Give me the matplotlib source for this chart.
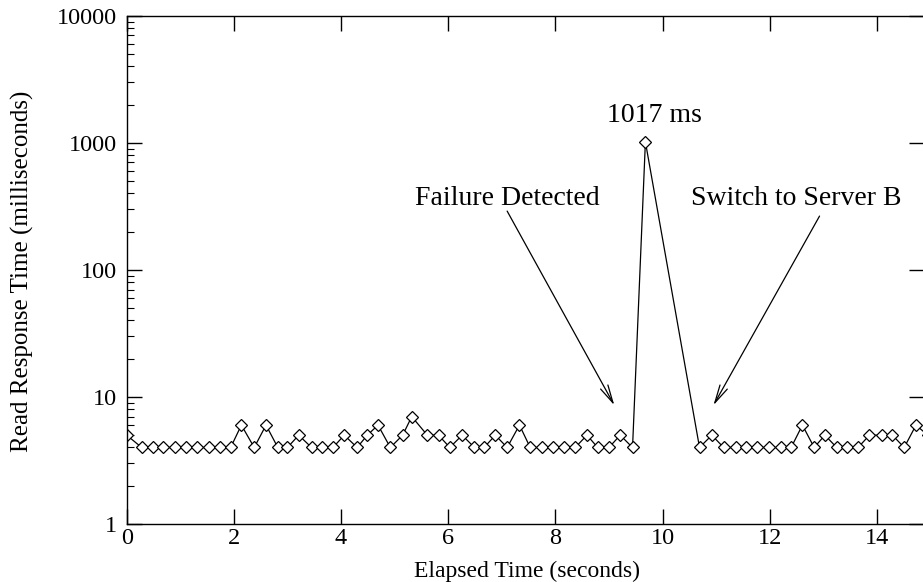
import matplotlib
matplotlib.use("Agg")
import matplotlib.pyplot as plt
from matplotlib.ticker import LogLocator, NullFormatter, FixedLocator

plt.rcParams['font.family'] = ['Liberation Serif', 'DejaVu Serif']

# Elapsed time (s) and read response time (ms)
elapsed = [0.00, 0.28, 0.50, 0.68, 0.90, 1.11, 1.32, 1.53, 1.74, 1.94,
           2.14, 2.38, 2.60, 2.82, 3.00, 3.21, 3.45, 3.65, 3.85, 4.06,
           4.30, 4.49, 4.69, 4.92, 5.15, 5.32, 5.61, 5.82, 6.03, 6.26,
           6.49, 6.67, 6.88, 7.10, 7.33, 7.53, 7.75, 7.96, 8.16, 8.37,
           8.59, 8.79, 9.00, 9.21, 9.44, 9.68,
           10.69, 10.92, 11.14, 11.37, 11.55, 11.76, 11.99, 12.21, 12.40, 12.61,
           12.83, 13.03, 13.25, 13.45, 13.65, 13.86, 14.09, 14.29, 14.51, 14.73,
           14.95]
response = [5, 4, 4, 4, 4, 4, 4, 4, 4, 4,
            6, 4, 6, 4, 4, 5, 4, 4, 4, 5,
            4, 5, 6, 4, 5, 7, 5, 5, 4, 5,
            4, 4, 5, 4, 6, 4, 4, 4, 4, 4,
            5, 4, 4, 5, 4, 1017,
            4, 5, 4, 4, 4, 4, 4, 4, 4, 6,
            4, 5, 4, 4, 4, 5, 5, 5, 4, 6,
            5]

x_ticks = [0, 2, 4, 6, 8, 10, 12, 14]
y_ticks = [1, 10, 100, 1000, 10000]
y_tick_labels = ['1', '10', '100', '1000', '10000']

W, H = 923, 582
fig = plt.figure(figsize=(W / 100, H / 100), dpi=100)
left_px, right_px, top_px, bottom_px = 126.7, 923.5, 15.7, 524.0
ax = fig.add_axes([left_px / W, 1 - bottom_px / H,
                   (right_px - left_px) / W, (bottom_px - top_px) / H])

ax.plot(elapsed, response, color='black', lw=0.9, marker='D', ms=6,
        mfc='white', mec='black', mew=0.9, clip_on=True)

ax.set_yscale('log')
ax.set_xlim(0, 14.87)
ax.set_ylim(1, 10000)

ax.xaxis.set_major_locator(FixedLocator(x_ticks))
ax.set_xticks(x_ticks)
ax.set_xticklabels([str(v) for v in x_ticks])
ax.set_yticks(y_ticks)
ax.set_yticklabels(y_tick_labels)
ax.yaxis.set_minor_locator(LogLocator(base=10, subs=range(2, 10)))
ax.yaxis.set_minor_formatter(NullFormatter())

ax.tick_params(axis='both', which='major', direction='in', length=11, width=1.0,
               top=True, right=True, labelsize=17.5, colors='black')
ax.tick_params(axis='x', which='major', pad=3)
ax.tick_params(axis='y', which='major', pad=7)
ax.tick_params(axis='y', which='minor', direction='in', length=5, width=0.8,
               left=True, right=False)

for s in ax.spines.values():
    s.set_linewidth(1.0)

ax.set_xlabel('Elapsed Time (seconds)', fontsize=17, va='baseline')
ax.xaxis.set_label_coords(0.503, (bottom_px - 577) / (bottom_px - top_px))
ax.set_ylabel('Read Response Time (milliseconds)', fontsize=18, va='center')
ax.yaxis.set_label_coords((22 - left_px) / (right_px - left_px), 0.497)

arrow = dict(arrowstyle='->,head_length=1.3,head_width=0.3', lw=0.9, color='black',
             shrinkA=0, shrinkB=0)
ax.annotate('', xy=(9.10, 8.6), xytext=(7.10, 290), arrowprops=arrow)
ax.annotate('', xy=(10.95, 8.6), xytext=(12.93, 265), arrowprops=arrow)
ax.text(7.10, 325, 'Failure Detected', fontsize=20, ha='center', va='baseline')
ax.text(12.49, 325, 'Switch to Server B', fontsize=20, ha='center', va='baseline')
ax.text(9.85, 1460, '1017 ms', fontsize=20, ha='center', va='baseline')

fig.savefig('out.png', dpi=100)
